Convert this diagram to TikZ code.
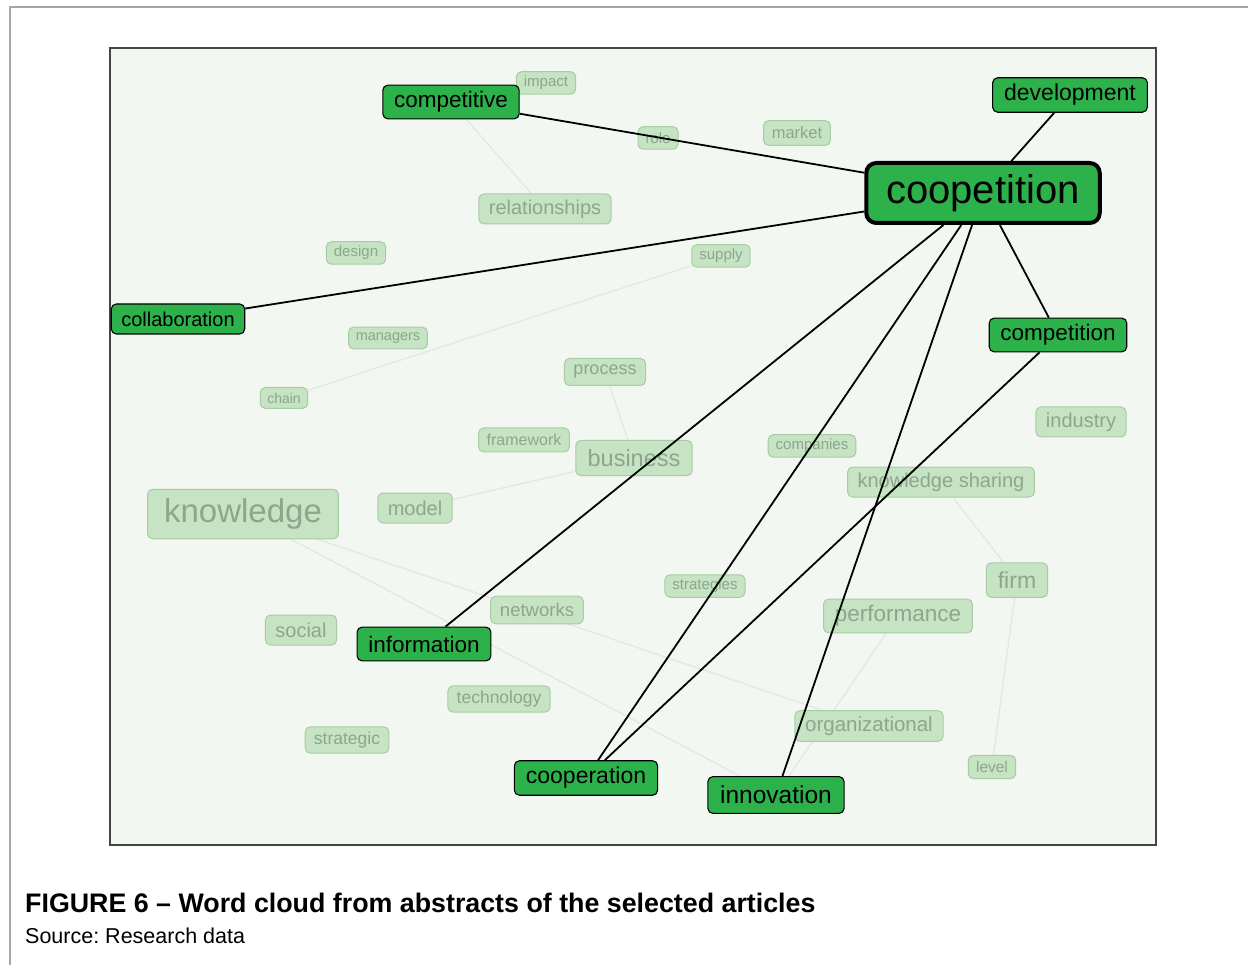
\documentclass[tikz,border=0pt]{standalone}
\usepackage{fontspec}
\setmainfont{Liberation Sans}
\frenchspacing

\definecolor{hotgreen}{HTML}{2DB14A}
\definecolor{coldfill}{HTML}{C6E4C4}
\definecolor{colddraw}{HTML}{A7CBA5}
\definecolor{coldtext}{HTML}{8BA68B}
\definecolor{paper}{HTML}{F3F7F1}
\definecolor{framegray}{HTML}{454545}
\definecolor{faintline}{HTML}{E1E7E1}

\pgfdeclarelayer{bg}
\pgfdeclarelayer{thin}
\pgfdeclarelayer{thick}
\pgfdeclarelayer{top}
\pgfsetlayers{bg,thin,main,thick,top}

\tikzset{
	word/.style={rounded corners=5pt,inner ysep=0pt,inner xsep={0.5*#1pt},minimum height={1.5*#1pt},font=\fontsize{#1}{#1}\selectfont},
	hot/.style={word=#1,draw=black,line width=1.1pt,fill=hotgreen,text=black},
	cold/.style={word=#1,draw=colddraw,line width=1pt,fill=coldfill,text=coldtext},
	tie/.style={black,line width=1.8pt},
	ghost/.style={faintline,line width=1.2pt},
}

\begin{document}
\begin{tikzpicture}[x=1pt,y=-1pt]
	\useasboundingbox (0,0) rectangle (1248,965);
	\begin{pgfonlayer}{bg}
		\draw[gray!70,line width=1.3pt] (10,965) -- (10,7) -- (1248,7);
		\draw[framegray,line width=1.2pt,fill=paper] (110,48) rectangle (1156,845);
	\end{pgfonlayer}
	% faint words
	\node[cold=15] (impact) at (546,83) {impact};
	\node[cold=15] (role) at (658,138) {role};
	\node[cold=16.5] (market) at (797,133) {market};
	\node[cold=20] (relationships) at (545,209) {relationships};
	\node[cold=15] (design) at (356,253) {design};
	\node[cold=15] (supply) at (721,256) {supply};
	\node[cold=14.5] (managers) at (388,338) {managers};
	\node[cold=14] (chain) at (284,398) {chain};
	\node[cold=18] (process) at (605,372) {process};
	\node[cold=16] (framework) at (524,440) {framework};
	\node[cold=23.5] (business) at (634,458) {business};
	\node[cold=15] (companies) at (812,446) {companies};
	\node[cold=20] (industry) at (1081,422) {industry};
	\node[cold=20] (sharing) at (941,482) {knowledge sharing};
	\node[cold=33] (knowledge) at (243,514) {knowledge};
	\node[cold=20] (model) at (415,508) {model};
	\node[cold=23] (firm) at (1017,580) {firm};
	\node[cold=15] (strategies) at (705,586) {strategies};
	\node[cold=18.5] (networks) at (537,610) {networks};
	\node[cold=22.5] (performance) at (898,616) {performance};
	\node[cold=20] (social) at (301,630) {social};
	\node[cold=17.5] (technology) at (499,699) {technology};
	\node[cold=17.5] (strategic) at (347,740) {strategic};
	\node[cold=20.5] (organizational) at (869,726) {organizational};
	\node[cold=15.5] (level) at (992,767) {level};
	% strong words
	\begin{pgfonlayer}{top}
		\node[hot=40,line width=4pt,rounded corners=10pt] (coopetition) at (983,193) {coopetition};
		\node[hot=22.5] (competitive) at (451,102) {competitive};
		\node[hot=23] (development) at (1070,95) {development};
		\node[hot=20] (collaboration) at (178,319) {collaboration};
		\node[hot=22.5] (competition) at (1058,335) {competition};
		\node[hot=22.5] (information) at (424,644) {information};
		\node[hot=23] (cooperation) at (586,778) {cooperation};
		\node[hot=24.5] (innovation) at (776,795) {innovation};
	\end{pgfonlayer}
	% faint links
	\begin{pgfonlayer}{thin}
		\draw[ghost] (supply) -- (chain);
		\draw[ghost] (knowledge) -- (organizational);
		\draw[ghost] (knowledge) -- (innovation);
		\draw[ghost] (model) -- (business);
		\draw[ghost] (process) -- (business);
		\draw[ghost] (sharing) -- (firm);
		\draw[ghost] (performance) -- (innovation);
		\draw[ghost] (level) -- (firm);
		\draw[ghost] (competitive) -- (relationships);
	\end{pgfonlayer}
	% strong links
	\begin{pgfonlayer}{thick}
		\draw[tie] (competitive) -- (coopetition);
		\draw[tie] (collaboration) -- (coopetition);
		\draw[tie] (development) -- (coopetition);
		\draw[tie] (competition) -- (coopetition);
		\draw[tie] (information) -- (coopetition);
		\draw[tie] (cooperation) -- (coopetition);
		\draw[tie] (innovation) -- (coopetition);
		\draw[tie] (competition) -- (cooperation);
	\end{pgfonlayer}
	% caption
	\node[anchor=base west,inner sep=0pt,font=\bfseries\fontsize{26.8}{26.8}\selectfont] (title) at (25,912) {FIGURE 6 – Word cloud from abstracts of the selected articles};
	\node[anchor=base west,inner sep=0pt,font=\fontsize{21.5}{21.5}\selectfont] (source) at (25,943) {Source: Research data};
\end{tikzpicture}
\end{document}
